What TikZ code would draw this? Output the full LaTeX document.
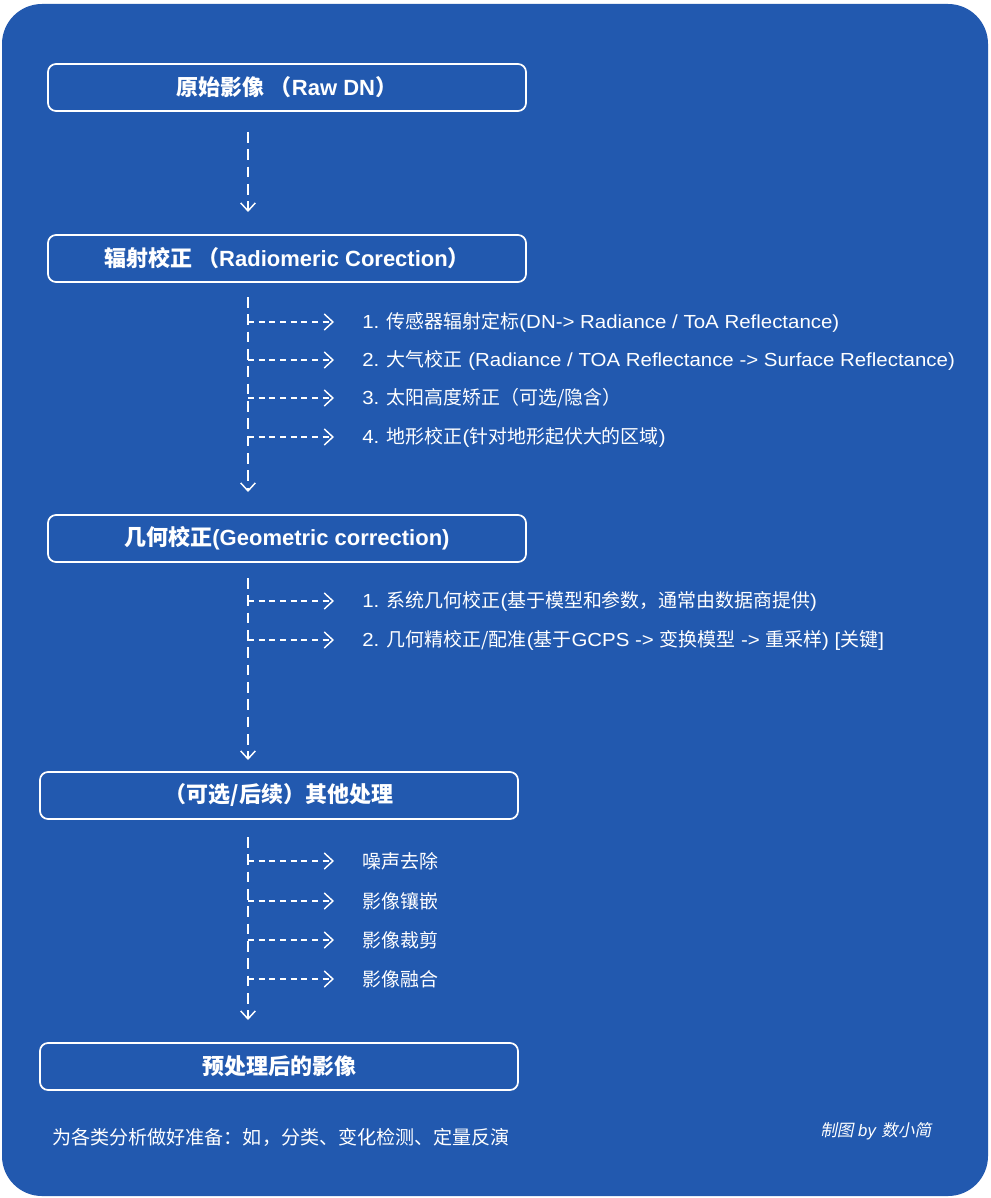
\documentclass[tikz,border=0pt]{standalone}
\usepackage{fontspec}
\setmainfont{Liberation Sans}
\newfontfamily\latinw[FakeStretch=1.08]{Liberation Sans}
\newfontfamily\cjk{Noto Sans CJK SC}
\newfontfamily\cjkit[FakeSlant=0.2]{Noto Sans CJK SC}
\newcommand\zh[1]{{\cjk #1}}
\usetikzlibrary{arrows.meta,calc}
\definecolor{bgblue}{RGB}{34,89,175}
\begin{document}
\begin{tikzpicture}[x=0.75pt,y=-0.75pt,
  box/.style={draw=white,line width=1.3pt,rounded corners=6pt,minimum width={478*0.75pt},minimum height={47*0.75pt},inner sep=0pt,text=white,font=\bfseries\fontsize{16.5}{19}\selectfont},
  item/.style={anchor=west,inner sep=0pt,text=white,font=\latinw\fontsize{14.2}{16}\selectfont},
  vline/.style={draw=white,line width=1.1pt,dash pattern=on 8pt off 5pt,-{Straight Barb[length=6pt,width=11pt,line width=1.1pt]}},
  hline/.style={draw=white,line width=1.1pt,dash pattern=on 4.5pt off 3.5pt,-{Straight Barb[length=6.5pt,width=12pt,line width=1.1pt]}}
]
\useasboundingbox (0,0) rectangle (990,1198);
\fill[white] (0,0) rectangle (990,1198);
\fill[bgblue,rounded corners=30pt] (2,4) rectangle (988,1196);

\node[box] (b1) at (287,87.5) {\zh{原始影像 （}Raw DN\zh{）}};
\node[box] (b2) at (287,258.5) {\zh{辐射校正 （}Radiomeric Corection\zh{）}};
\node[box] (b3) at (287,538.5) {\zh{几何校正}(Geometric correction)};
\node[box] (b4) at (279,795.5) {\zh{（可选/后续）其他处理}};
\node[box] (b5) at (279,1066.5) {\zh{预处理后的影像}};

% trunk coordinates
\coordinate (t1a) at (248,132); \coordinate (t1b) at (248,212);
\coordinate (t2a) at (248,297); \coordinate (t2b) at (248,492);
\coordinate (t3a) at (248,578); \coordinate (t3b) at (248,760);
\coordinate (t4a) at (248,837); \coordinate (t4b) at (248,1020);

\draw[vline] (t1a) -- (t1b);
\draw[vline] (t2a) -- (t2b);
\draw[vline] (t3a) -- (t3b);
\draw[vline] (t4a) -- (t4b);

% radiometric items
\node[item] (r1) at (362,322) {1. \zh{传感器辐射定标}(DN-> Radiance / ToA Reflectance)};
\node[item] (r2) at (362,360) {2. \zh{大气校正} (Radiance / TOA Reflectance -> Surface Reflectance)};
\node[item] (r3) at (362,398) {3. \zh{太阳高度矫正（可选/隐含）}};
\node[item] (r4) at (362,437) {4. \zh{地形校正}(\zh{针对地形起伏大的区域})};
% geometric items
\node[item] (g1) at (362,601) {1. \zh{系统几何校正}(\zh{基于模型和参数，通常由数据商提供})};
\node[item] (g2) at (362,640) {2. \zh{几何精校正/配准}(\zh{基于}GCPS -> \zh{变换模型} -> \zh{重采样}) [\zh{关键}]};
% other items
\node[item] (o1) at (362,861) {\zh{噪声去除}};
\node[item] (o2) at (362,901) {\zh{影像镶嵌}};
\node[item] (o3) at (362,940) {\zh{影像裁剪}};
\node[item] (o4) at (362,979) {\zh{影像融合}};

\foreach \n in {r1,r2,r3,r4,g1,g2,o1,o2,o3,o4}{
  \coordinate (\n s) at (248,0 |- \n.west);
  \draw[hline,shorten >=21pt] (\n s) -- (\n.west);
}

\node[item,font=\fontsize{14.3}{16}\selectfont] (note) at (52,1137) {\zh{为各类分析做好准备：如，分类、变化检测、定量反演}};
\node[item,font=\fontsize{12.5}{14}\selectfont] (credit) at (820,1131) {\zh{\cjkit 制图} \textit{by} \zh{\cjkit 数小简}};
\end{tikzpicture}
\end{document}
